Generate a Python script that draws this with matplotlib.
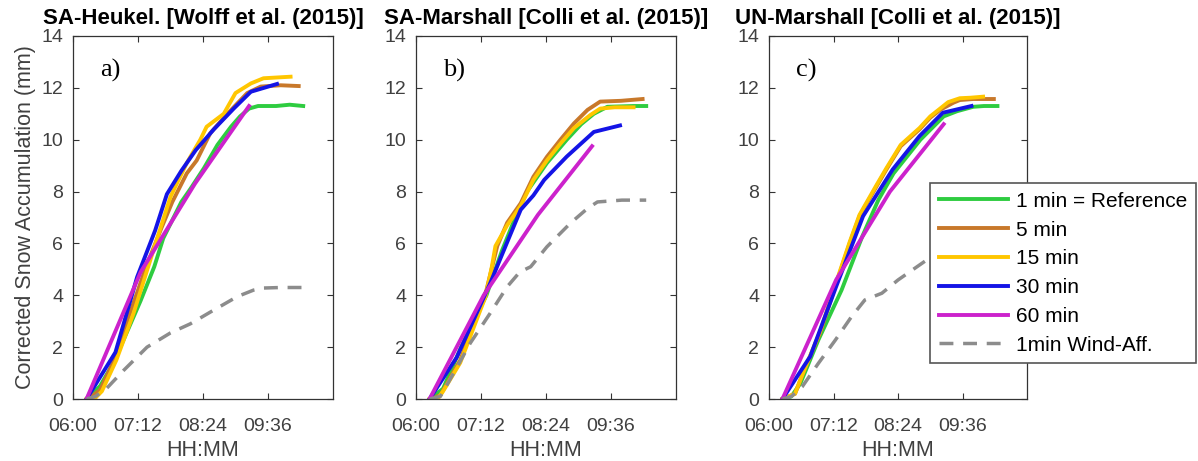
import matplotlib
matplotlib.use('Agg')
import matplotlib.pyplot as plt

plt.rcParams['font.family'] = ['Liberation Sans', 'DejaVu Sans']

# time axis: minutes after 06:00
x_ticks = [0, 72, 144, 216]
x_tick_labels = ['06:00', '07:12', '08:24', '09:36']
y_ticks = [0, 2, 4, 6, 8, 10, 12, 14]

titles = ['SA-Heukel. [Wolff et al. (2015)]',
          'SA-Marshall [Colli et al. (2015)]',
          'UN-Marshall [Colli et al. (2015)]']
panel_tags = ['a)', 'b)', 'c)']
series_names = ['1 min = Reference', '5 min', '15 min', '30 min', '60 min', '1min Wind-Aff.']
series_colors = ['#2ECC40', '#C8782A', '#FFC600', '#1414E6', '#CC22CC', '#8C8C8C']

# ---- panel a) SA-Heukel.
a_t_1min = [15, 30, 45, 60, 75, 90, 100, 110, 120, 130, 145, 160, 175, 185, 195, 205, 225, 240, 255]
a_v_1min = [0, 0.5, 1.4, 2.6, 3.8, 5.1, 6.2, 6.9, 7.6, 8.1, 8.9, 9.8, 10.5, 10.9, 11.2, 11.3, 11.3, 11.35, 11.3]
a_t_5min = [17, 30, 47, 62, 81, 98, 110, 126, 137, 152, 171, 193, 208, 230, 250]
a_v_5min = [0, 0.35, 1.6, 3.2, 5.1, 6.6, 7.6, 8.7, 9.2, 10.25, 11.0, 11.8, 12.05, 12.1, 12.07]
a_t_15min = [15, 25, 32, 48, 67, 86, 108, 126, 141, 148, 167, 180, 197, 211, 241]
a_v_15min = [0, 0.05, 0.3, 1.5, 3.3, 5.4, 7.8, 9.1, 10.0, 10.5, 11.0, 11.8, 12.17, 12.37, 12.43]
a_t_30min = [15, 47, 71, 91, 104, 120, 136, 156, 178, 197, 226]
a_v_30min = [0, 1.8, 4.7, 6.5, 7.9, 8.8, 9.6, 10.4, 11.2, 11.85, 12.15]
a_t_60min = [15, 75, 135, 195]
a_v_60min = [0, 4.9, 8.3, 11.3]
a_t_wind = [15, 25, 37, 56, 82, 108, 130, 152, 182, 200, 211, 230, 255]
a_v_wind = [0, 0.1, 0.4, 1.1, 2.0, 2.55, 2.9, 3.35, 3.95, 4.2, 4.28, 4.3, 4.3]

# ---- panel b) SA-Marshall
b_t_1min = [15, 30, 50, 78, 95, 110, 123, 145, 167, 183, 197, 212, 241, 255]
b_v_1min = [0, 0.4, 2.0, 4.0, 5.7, 7.0, 8.0, 9.1, 10.0, 10.6, 11.0, 11.27, 11.3, 11.3]
b_t_5min = [17, 27, 49, 78, 90, 101, 116, 130, 145, 160, 175, 190, 204, 227, 251]
b_v_5min = [0, 0.15, 1.5, 4.2, 5.9, 6.8, 7.55, 8.57, 9.34, 10.0, 10.63, 11.15, 11.47, 11.5, 11.57]
b_t_15min = [15, 25, 30, 49, 77, 84, 88, 101, 116, 130, 145, 160, 175, 193, 204, 220, 241]
b_v_15min = [0, 0.05, 0.3, 1.4, 3.95, 5.1, 5.9, 6.7, 7.45, 8.45, 9.2, 9.85, 10.45, 10.95, 11.2, 11.25, 11.25]
b_t_30min = [15, 45, 82, 104, 116, 130, 142, 167, 197, 226]
b_v_30min = [0, 1.6, 4.45, 6.3, 7.3, 7.85, 8.45, 9.35, 10.3, 10.55]
b_t_60min = [15, 75, 135, 195]
b_v_60min = [0, 4.0, 7.1, 9.75]
b_t_wind = [15, 27, 45, 60, 82, 101, 115, 127, 145, 171, 190, 201, 228, 255]
b_v_wind = [0, 0.1, 1.2, 2.15, 3.3, 4.33, 4.9, 5.1, 5.87, 6.78, 7.35, 7.6, 7.67, 7.67]

# ---- panel c) UN-Marshall
c_t_1min = [15, 25, 35, 55, 81, 104, 122, 139, 169, 195, 210, 228, 240, 255]
c_v_1min = [0, 0.1, 0.6, 2.27, 4.2, 6.26, 7.67, 8.7, 10.0, 10.9, 11.1, 11.27, 11.3, 11.3]
c_t_5min = [15, 29, 38, 57, 75, 90, 101, 120, 131, 147, 168, 180, 191, 206, 213, 228, 251]
c_v_5min = [0, 0.2, 1.0, 2.55, 4.45, 6.0, 7.05, 8.2, 8.85, 9.75, 10.4, 10.85, 11.15, 11.43, 11.53, 11.57, 11.57]
c_t_15min = [15, 29, 38, 57, 75, 90, 101, 120, 131, 147, 168, 180, 191, 200, 213, 225, 239]
c_v_15min = [0, 0.2, 1.0, 2.6, 4.5, 6.05, 7.1, 8.25, 8.9, 9.8, 10.45, 10.9, 11.2, 11.45, 11.6, 11.62, 11.66]
c_t_30min = [15, 46, 75, 105, 138, 168, 194, 226]
c_v_30min = [0, 1.64, 4.34, 7.05, 8.85, 10.14, 11.04, 11.3]
c_t_60min = [15, 75, 135, 195]
c_v_60min = [0, 4.6, 8.0, 10.6]
c_t_wind = [15, 25, 37, 55, 74, 92, 107, 126, 144, 176, 200, 230, 255]
c_v_wind = [0, 0.1, 0.47, 1.37, 2.27, 3.17, 3.82, 4.08, 4.59, 5.36, 5.9, 6.3, 6.4]

panels = [
    [(a_t_1min, a_v_1min), (a_t_5min, a_v_5min), (a_t_15min, a_v_15min),
     (a_t_30min, a_v_30min), (a_t_60min, a_v_60min), (a_t_wind, a_v_wind)],
    [(b_t_1min, b_v_1min), (b_t_5min, b_v_5min), (b_t_15min, b_v_15min),
     (b_t_30min, b_v_30min), (b_t_60min, b_v_60min), (b_t_wind, b_v_wind)],
    [(c_t_1min, c_v_1min), (c_t_5min, c_v_5min), (c_t_15min, c_v_15min),
     (c_t_30min, c_v_30min), (c_t_60min, c_v_60min), (c_t_wind, c_v_wind)],
]

W, H = 1198, 461
fig = plt.figure(figsize=(W / 100, H / 100), dpi=100)

# axes boxes in pixels: left, right, top, bottom
boxes = [(73, 333, 36, 399), (416, 676, 36, 399), (769, 1027, 36, 399)]
text_gray = '#404040'

handles = []
for i, (l, r, t, b) in enumerate(boxes):
    ax = fig.add_axes([l / W, 1 - b / H, (r - l) / W, (b - t) / H])
    for j, (tt, vv) in enumerate(panels[i]):
        if j == 5:
            line, = ax.plot(tt, vv, color=series_colors[j], lw=2.5, dashes=(4, 2.8))
        else:
            line, = ax.plot(tt, vv, color=series_colors[j], lw=2.8)
        if i == 2:
            handles.append(line)
    ax.set_xlim(0, 288)
    ax.set_ylim(0, 14)
    ax.set_xticks(x_ticks)
    ax.set_xticklabels(x_tick_labels)
    ax.set_yticks(y_ticks)
    ax.tick_params(direction='in', top=True, right=True, length=4.5, width=0.8,
                   labelsize=14, labelcolor=text_gray, color='#333333')
    ax.tick_params(axis='x', pad=14)
    ax.tick_params(axis='y', pad=7)
    for s in ax.spines.values():
        s.set_color('#333333')
        s.set_linewidth(0.9)
    ax.set_title(titles[i], fontsize=16, fontweight='bold', pad=9)
    ax.set_xlabel('HH:MM', fontsize=15.5, color=text_gray, labelpad=3)
    if i == 0:
        ax.set_ylabel('Corrected Snow Accumulation (mm)', fontsize=15.5, color=text_gray, labelpad=4)
    ax.text(0.105, 0.905, panel_tags[i], transform=ax.transAxes, fontsize=19,
            family='Liberation Serif', va='center', ha='left')

leg = fig.legend(handles, series_names, loc='upper left',
                 bbox_to_anchor=(930 / W, 1 - 183 / H), fontsize=15,
                 frameon=True, fancybox=False, framealpha=1, edgecolor='#555555',
                 handlelength=3.3, labelspacing=0.47, borderpad=0.42, handletextpad=0.4,
                 borderaxespad=0)
leg.get_frame().set_linewidth(1.2)

fig.savefig('out.png', dpi=100)
